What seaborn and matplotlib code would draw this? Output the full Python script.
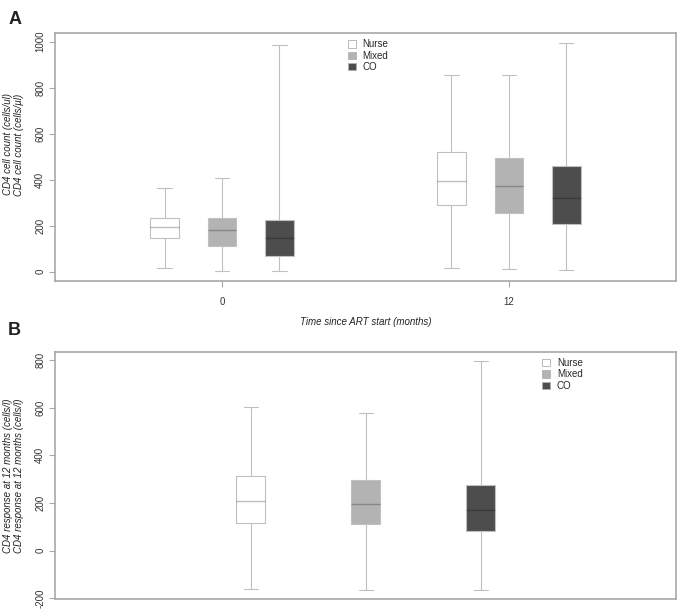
import numpy as np
import pandas as pd
import seaborn as sns
import matplotlib.pyplot as plt
from matplotlib.patches import Patch

# five-number summaries: min, q1, median, q3, max
groups = ['Nurse', 'Mixed', 'CO']
times = ['0', '12']

nurse_0 = [17, 145, 194, 232, 363]
mixed_0 = [3, 112, 180, 232, 406]
co_0 = [3, 68, 145, 225, 986]

nurse_12 = [15, 290, 393, 519, 855]
mixed_12 = [10, 255, 371, 496, 854]
co_12 = [7, 209, 322, 460, 993]

nurse_resp = [-162, 118, 207, 312, 602]
mixed_resp = [-166, 111, 195, 298, 579]
co_resp = [-166, 84, 169, 276, 797]

palette = {'Nurse': '#ffffff', 'Mixed': '#b3b3b3', 'CO': '#4d4d4d'}
edge = '#c0c0c0'
frame = '#a8a8a8'

count_rows = []
for t, vals in zip(times, [[nurse_0, mixed_0, co_0], [nurse_12, mixed_12, co_12]]):
    for g, v in zip(groups, vals):
        for x in v:
            count_rows.append({'time': t, 'group': g, 'value': x})
df_count = pd.DataFrame(count_rows)

resp_rows = []
for g, v in zip(groups, [nurse_resp, mixed_resp, co_resp]):
    for x in v:
        resp_rows.append({'group': g, 'value': x})
df_resp = pd.DataFrame(resp_rows)

sns.set_theme(style='white')
plt.rcParams['font.family'] = ['Liberation Sans', 'DejaVu Sans']
plt.rcParams['axes.unicode_minus'] = False

fig = plt.figure(figsize=(6.83, 6.14), dpi=100)
ax1 = fig.add_axes([0.0805, 0.5428, 0.909, 0.4035])
ax2 = fig.add_axes([0.0805, 0.0244, 0.909, 0.4028])

box_kw = dict(whis=(0, 100), linecolor=edge, linewidth=0.8, fliersize=0,
              medianprops=dict(color='black', alpha=0.25, linewidth=1.0),
              legend=False)

sns.boxplot(data=df_count, x='time', y='value', hue='group', order=times,
            hue_order=groups, palette=palette, width=0.6, gap=0.5, ax=ax1, **box_kw)
sns.boxplot(data=df_resp, x='group', y='value', hue='group', order=groups,
            hue_order=groups, palette=palette, width=0.252, ax=ax2, **box_kw)

ax1.set_xlim(-0.582, 1.582)
ax1.set_ylim(-39, 1038)
ax1.set_yticks(range(0, 1001, 200))
ax1.set_xlabel('Time since ART start (months)', style='italic', fontsize=7, color='#222222', labelpad=7)
ax1.set_ylabel('CD4 cell count (cells/ul)\nCD4 cell count (cells/\u00b5l)', style='italic',
               fontsize=7, color='#222222', linespacing=1.1)
ax1.yaxis.set_label_coords(-0.05, 0.55)

ax2.set_xlim(-1.704, 3.696)
ax2.set_ylim(-203, 835)
ax2.set_yticks(range(-200, 801, 200))
ax2.set_xticks([])
ax2.set_xlabel('')
ax2.set_ylabel('CD4 response at 12 months (cells/l)\nCD4 response at 12 months (cells/l)', style='italic',
               fontsize=7, color='#222222', linespacing=1.1)
ax2.yaxis.set_label_coords(-0.05, 0.5)

for ax in (ax1, ax2):
    for s in ax.spines.values():
        s.set_visible(True)
        s.set_color(frame)
        s.set_linewidth(1.2)
    ax.tick_params(axis='both', which='both', direction='out', length=4, width=0.8,
                   color=frame, labelsize=7, labelcolor='#333333', pad=3)
    ax.tick_params(axis='y', labelrotation=90, left=True)
    ax.tick_params(axis='x', bottom=True, pad=8)
    for lab in ax.get_yticklabels():
        lab.set_va('center')

ax2.tick_params(axis='x', bottom=False)

handles = [Patch(facecolor=palette[g], edgecolor='#b0b0b0', linewidth=0.6, label=g) for g in groups]
ax1.legend(handles=handles, loc='upper left', bbox_to_anchor=(0.472, 0.975), frameon=False,
           fontsize=7, handlelength=0.8, handleheight=0.8, handletextpad=0.7,
           labelspacing=0.15, borderpad=0, borderaxespad=0)
ax2.legend(handles=handles, loc='upper left', bbox_to_anchor=(0.785, 0.975), frameon=False,
           fontsize=7, handlelength=0.8, handleheight=0.8, handletextpad=0.7,
           labelspacing=0.15, borderpad=0, borderaxespad=0)

fig.text(0.012, 0.968, 'A', fontsize=13, fontweight='bold', color='#222222', va='center')
fig.text(0.012, 0.462, 'B', fontsize=13, fontweight='bold', color='#222222', va='center')

fig.savefig('out.png', dpi=100)
